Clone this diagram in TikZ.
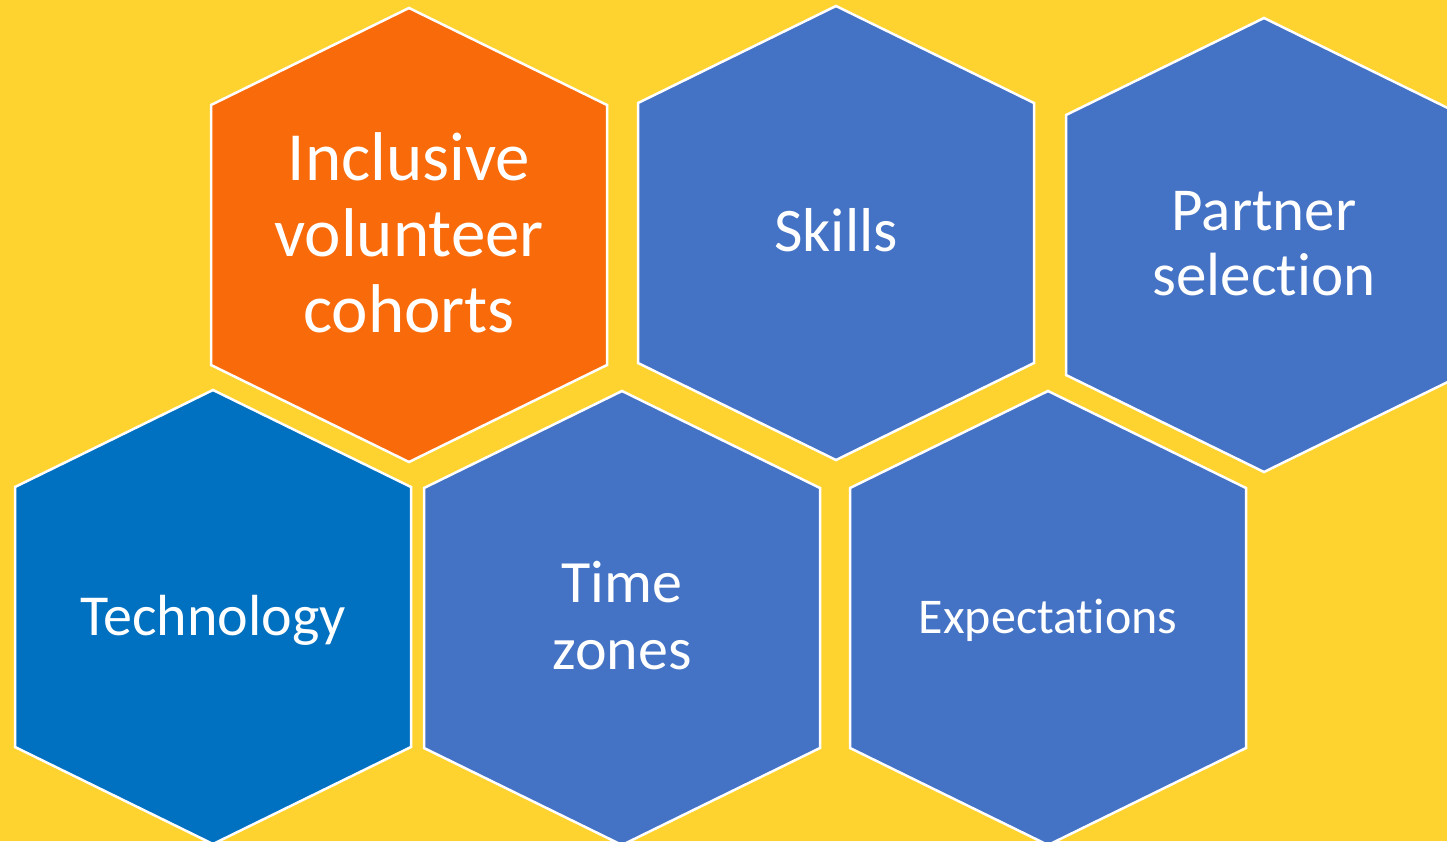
\documentclass[tikz,border=0pt]{standalone}
\usepackage{fontspec}
\setmainfont[Ligatures=NoCommon,Contextuals=NoAlternate]{Carlito}
\definecolor{bgyellow}{HTML}{FFD32F}
\definecolor{hexorange}{HTML}{F96A0A}
\definecolor{hexblue}{HTML}{4472C4}
\definecolor{hexdeep}{HTML}{0070C0}
\tikzset{
  hexcell/.style={draw=white, line width=2.5pt, line join=miter},
  hexlabel/.style={text=white, align=center, inner sep=0pt},
}
\newcommand\drawhexcell[3]{%
  \path[hexcell, fill=#3] (#1,#2) ++(0,-227) -- ++(198,97) -- ++(0,260) -- ++(-198,97) -- ++(-198,-97) -- ++(0,-260) -- cycle;}
\begin{document}
\begin{tikzpicture}[x=1pt,y=-1pt]
\useasboundingbox (0,0) rectangle (1447,841);
\clip (0,0) rectangle (1447,841);
\fill[bgyellow] (0,0) rectangle (1447,841);
\drawhexcell{409}{235}{hexorange}
\drawhexcell{836}{233}{hexblue}
\drawhexcell{1264}{245}{hexblue}
\drawhexcell{213}{617}{hexdeep}
\drawhexcell{622}{618}{hexblue}
\drawhexcell{1048}{618}{hexblue}
\node[hexlabel, font=\fontsize{69}{76}\selectfont] (inclusive) at (409,233) {Inclusive\\volunteer\\cohorts};
\node[hexlabel, font=\fontsize{62}{70}\selectfont] (skills) at (836,230) {Skills};
\node[hexlabel, font=\fontsize{61}{65}\selectfont] (partner) at (1264,244) {Partner\\selection};
\node[hexlabel, font=\fontsize{58}{65}\selectfont] (technology) at (213,620) {Technology};
\node[hexlabel, font=\fontsize{60}{67}\selectfont] (timezones) at (622,616) {Time\\zones};
\node[hexlabel, font=\fontsize{50}{56}\selectfont] (expectations) at (1048,620) {Expectations};
\end{tikzpicture}
\end{document}
